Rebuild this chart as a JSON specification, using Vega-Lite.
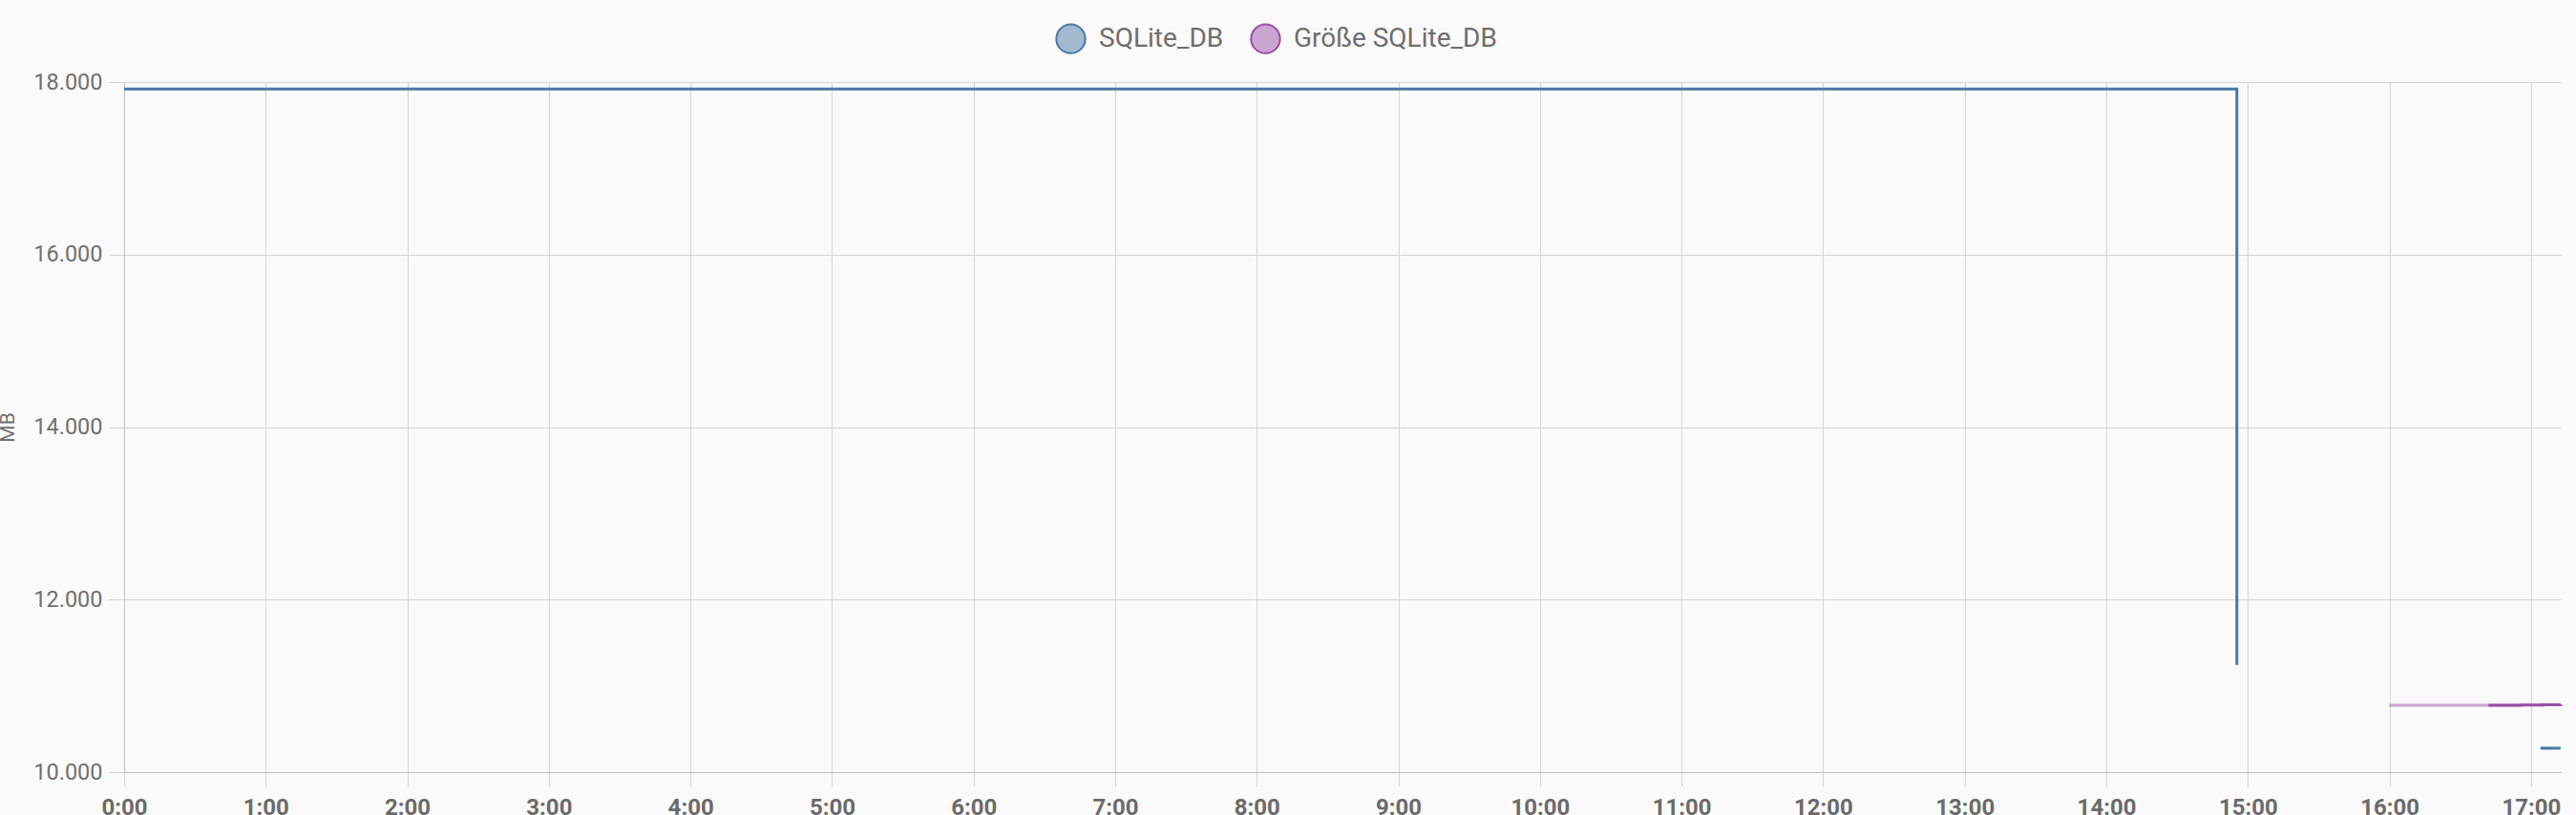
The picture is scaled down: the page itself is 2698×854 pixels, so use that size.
{
  "$schema": "https://vega.github.io/schema/vega-lite/v6.json",
  "width": 2552,
  "height": 723,
  "autosize": {"type": "none"},
  "padding": {"left": 130, "top": 86, "right": 16, "bottom": 45},
  "background": "#fafafa",
  "config": {
    "font": "Roboto",
    "view": {"stroke": null},
    "axis": {
      "gridColor": "#d5d5d5",
      "gridWidth": 1,
      "tickColor": "#d5d5d5",
      "domainColor": "#bdbdbd",
      "domainWidth": 1
    }
  },
  "data": {
    "values": [
      {"time": "2024-05-10T00:00:00Z", "series": "SQLite_DB", "value": 17919},
      {"time": "2024-05-10T14:55:20Z", "series": "SQLite_DB", "value": 11243},
      {"time": "2024-05-10T16:00:00Z", "series": "SQLite_DB", "value": null},
      {"time": "2024-05-10T17:04:00Z", "series": "SQLite_DB", "value": 10277},
      {"time": "2024-05-10T17:12:30Z", "series": "SQLite_DB", "value": 10277},
      {"time": "2024-05-10T16:00:00Z", "series": "Größe SQLite_DB", "value": 10775},
      {"time": "2024-05-10T16:42:00Z", "series": "Größe SQLite_DB", "value": 10775},
      {"time": "2024-05-10T16:56:00Z", "series": "Größe SQLite_DB", "value": 10778},
      {"time": "2024-05-10T17:05:00Z", "series": "Größe SQLite_DB", "value": 10781},
      {"time": "2024-05-10T17:12:30Z", "series": "Größe SQLite_DB", "value": 10785}
    ]
  },
  "encoding": {
    "x": {
      "field": "time",
      "type": "temporal",
      "scale": {
        "type": "utc",
        "domain": [
          {"year": 2024, "month": 5, "date": 10, "hours": 0, "minutes": 0, "utc": true},
          {"year": 2024, "month": 5, "date": 10, "hours": 17, "minutes": 12, "seconds": 35, "utc": true}
        ],
        "nice": false
      },
      "axis": {
        "title": null,
        "tickCount": 17,
        "format": "%-H:%M",
        "labelFont": "Roboto",
        "labelFontSize": 24,
        "labelFontWeight": "bold",
        "labelColor": "#6b6b6b",
        "labelOverlap": false,
        "labelFlush": false,
        "labelPadding": 10,
        "tickSize": 15,
        "grid": true
      }
    },
    "y": {
      "field": "value",
      "type": "quantitative",
      "scale": {"domain": [10000, 18000], "nice": false, "zero": false},
      "axis": {
        "title": "MB",
        "titleFont": "Roboto",
        "titleFontSize": 21,
        "titleFontWeight": "normal",
        "titleColor": "#707070",
        "titlePadding": 16,
        "values": [10000, 12000, 14000, 16000, 18000],
        "labelExpr": "replace(format(datum.value, ',d'), ',', '.')",
        "labelFont": "Roboto",
        "labelFontSize": 23.5,
        "labelColor": "#707070",
        "labelPadding": 7,
        "tickSize": 16,
        "grid": true
      }
    },
    "color": {
      "field": "series",
      "type": "nominal",
      "scale": {"domain": ["SQLite_DB", "Größe SQLite_DB"], "range": ["#4a78a6", "#9b4fa8"]},
      "legend": {
        "title": null,
        "orient": "none",
        "direction": "horizontal",
        "legendX": 975,
        "legendY": -62,
        "symbolType": "circle",
        "symbolSize": 920,
        "symbolStrokeWidth": 2,
        "labelFont": "Roboto",
        "labelFontSize": 28,
        "labelColor": "#6e6e6e",
        "labelOffset": 13,
        "labelLimit": 400,
        "columnPadding": 24,
        "encode": {
          "symbols": {
            "update": {
              "fill": {"scale": "color", "field": "value"},
              "fillOpacity": {"value": 0.5}
            }
          }
        }
      }
    }
  },
  "layer": [
    {
      "transform": [{"filter": {"field": "series", "equal": "SQLite_DB"}}],
      "mark": {"type": "line", "interpolate": "step-after", "strokeWidth": 3}
    },
    {
      "transform": [{"filter": {"field": "series", "equal": "Größe SQLite_DB"}}],
      "mark": {"type": "line", "interpolate": "step-after", "strokeWidth": 3, "opacity": 0.5}
    },
    {
      "transform": [
        {"filter": {"field": "series", "equal": "Größe SQLite_DB"}},
        {"filter": {"field": "time", "gte": {"year": 2024, "month": 5, "date": 10, "hours": 16, "minutes": 42, "utc": true}}}
      ],
      "mark": {"type": "line", "interpolate": "step-after", "strokeWidth": 3}
    }
  ]
}
